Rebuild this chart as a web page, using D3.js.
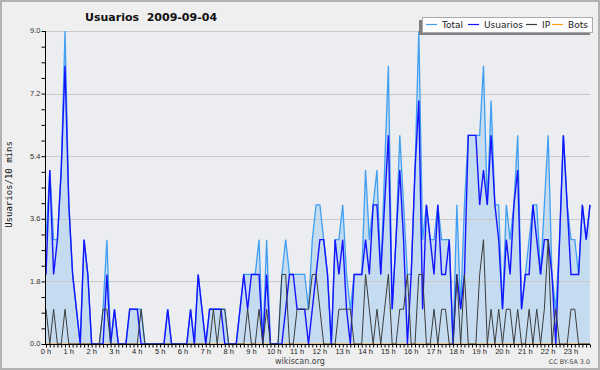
<!DOCTYPE html>
<html>
<head>
<meta charset="utf-8">
<script src="https://cdn.jsdelivr.net/npm/d3@7"></script>
<style>
  body { margin: 0; background: #efefef; }
  svg { display: block; font-family: "DejaVu Sans", sans-serif; }
</style>
</head>
<body>
<div id="chart"></div>
<script>
// values per 10 minutes, 144 slots (00:00 .. 23:50)
const total = [
  3,5,3,3,5,9,4,2,1,0, 3,2,0,0,0,1,3,0,1,0, 0,0,1,1,1,1,0,0,0,0,
  0,0,1,0,0,0,0,0,1,0, 2,1,0,1,1,1,1,1,0,0, 0,1,2,2,2,2,3,0,3,0,
  0,0,2,3,2,2,2,2,2,1, 3,4,4,3,2,0,3,3,4,2, 1,2,2,2,5,3,4,5,2,5,
  8,1,3,6,4,2,2,5,9,3, 4,3,3,4,3,3,3,0,4,1, 4,6,6,6,6,8,4,7,4,4,
  1,4,3,4,6,1,2,3,4,4, 2,4,6,2,1,3,6,4,3,3, 2,4,3,4
];
const usuarios = [
  2,5,2,3,5,8,4,2,1,0, 3,2,0,0,0,0,2,0,1,0, 0,0,1,1,1,0,0,0,0,0,
  0,0,1,0,0,0,0,0,1,0, 2,1,0,1,1,1,1,0,0,0, 0,1,2,1,2,2,2,0,2,0,
  0,0,0,1,2,2,1,1,1,0, 1,2,3,3,2,0,3,2,3,1, 0,2,2,2,3,2,4,4,2,4,
  6,1,3,5,3,0,2,5,7,1, 4,3,2,4,2,2,3,0,2,1, 2,6,6,6,4,5,4,6,4,3,
  1,3,2,4,5,1,2,2,4,3, 2,3,3,2,0,3,6,4,2,2, 2,4,3,4
];
const ip = [
  1,0,1,0,0,1,0,0,0,0, 0,0,0,0,0,1,1,0,0,0, 0,0,0,0,0,1,0,0,0,0,
  0,0,0,0,0,0,0,0,0,0, 0,0,0,0,1,0,1,1,0,0, 0,0,0,1,0,0,1,0,1,0,
  0,0,2,2,0,0,1,1,1,1, 2,2,1,0,0,0,0,1,1,1, 1,0,0,0,2,1,0,1,0,1,
  2,0,0,1,1,2,0,0,2,2, 0,0,1,0,1,1,0,0,2,0, 2,0,0,0,2,3,0,1,0,1,
  0,1,1,0,1,0,0,1,0,1, 0,1,3,0,1,0,0,0,1,1, 0,0,0,0
];
const bots = new Array(144).fill(0);

const hourLabels = d3.range(24).map(h => `${h} h`);
const yTicks = [0, 1.8, 3.6, 5.4, 7.2, 9.0];

const series = [
  {name: "Total", values: total, color: "#3f9ff2", width: 1.3},
  {name: "Usuarios", values: usuarios, color: "#1414ff", width: 1.4},
  {name: "IP", values: ip, color: "#3c3c3c", width: 1},
  {name: "Bots", values: bots, color: "#ff9c1a", width: 1}
];

const W = 600, H = 370;
const margin = {top: 31, right: 10, bottom: 26, left: 46};

const svg = d3.select("#chart").append("svg")
    .attr("width", W)
    .attr("height", H);

// background + frame
svg.append("rect")
    .attr("x", 1).attr("y", 1)
    .attr("width", W - 2).attr("height", H - 2)
    .attr("fill", "#efefef")
    .attr("stroke", "#b2b2b2")
    .attr("stroke-width", 2);

const x = d3.scaleLinear()
    .domain([0, 143])
    .range([margin.left, W - margin.right]);

const y = d3.scaleLinear()
    .domain([0, 9])
    .range([H - margin.bottom, margin.top]);

// plot background
svg.append("rect")
    .attr("x", x(0)).attr("y", y(9))
    .attr("width", x(143) - x(0)).attr("height", y(0) - y(9))
    .attr("fill", "#ecedf0");

// filled area under Total
svg.append("path")
    .datum(total)
    .attr("fill", "#c5dcf0")
    .attr("d", d3.area()
        .x((d, i) => x(i))
        .y0(y(0))
        .y1(d => y(d)));

// grid lines
svg.append("g")
    .selectAll("line")
    .data(yTicks.slice(1))
    .join("line")
    .attr("x1", x(0)).attr("x2", x(143))
    .attr("y1", d => Math.round(y(d)) + 0.5)
    .attr("y2", d => Math.round(y(d)) + 0.5)
    .attr("stroke", "#c9c9c9")
    .attr("stroke-width", 1);

// lines (bots first, then ip, usuarios, total on top order like ref)
const line = d3.line()
    .x((d, i) => x(i))
    .y(d => y(d));

const drawOrder = [series[3], series[0], series[1], series[2]];
svg.append("g")
    .selectAll("path")
    .data(drawOrder)
    .join("path")
    .attr("fill", "none")
    .attr("stroke", d => d.color)
    .attr("stroke-width", d => d.width)
    .attr("stroke-linejoin", "miter")
    .attr("d", d => line(d.values));

// y axis
const yAxis = svg.append("g")
    .attr("transform", `translate(${margin.left - 0.5},0)`);
yAxis.call(d3.axisLeft(y)
    .tickValues(d3.range(0, 9.001, 0.45))
    .tickSize(4)
    .tickFormat(""));
yAxis.call(g => g.select(".domain").remove());
yAxis.append("line")
    .attr("y1", y(0)).attr("y2", y(9))
    .attr("stroke", "#000");
yAxis.selectAll(".tick line").attr("stroke", "#000");
yAxis.selectAll(".tick.lbl")
    .data(yTicks)
    .join("text")
    .attr("x", -5)
    .attr("y", d => y(d))
    .attr("dy", "0.33em")
    .attr("text-anchor", "end")
    .attr("font-size", 7.5)
    .attr("fill", "#333")
    .text(d => d.toFixed(1));

// x axis
const xAxis = svg.append("g")
    .attr("transform", `translate(0,${y(0) + 0.5})`);
xAxis.call(d3.axisBottom(x)
    .tickValues(d3.range(0, 144))
    .tickSize(3)
    .tickFormat(""));
xAxis.select(".domain").attr("d", `M${x(0) - 1},0H${x(143)}`).attr("stroke", "#000");
xAxis.selectAll(".tick line").attr("stroke", "#000");
xAxis.selectAll("text.hr")
    .data(hourLabels)
    .join("text")
    .attr("class", "hr")
    .attr("x", (d, i) => x(i * 6))
    .attr("y", 9)
    .attr("text-anchor", "middle")
    .attr("font-size", 7.5)
    .attr("fill", "#222")
    .text(d => d);

// y axis title
svg.append("text")
    .attr("transform", `translate(12,${(y(0) + y(9)) / 2 - 3}) rotate(-90)`)
    .attr("text-anchor", "middle")
    .attr("font-family", "DejaVu Sans Mono, monospace")
    .attr("font-size", 9)
    .attr("fill", "#111")
    .text("Usuarios/10 mins");

// title
svg.append("text")
    .attr("x", 85)
    .attr("y", 21)
    .attr("font-size", 11)
    .attr("font-weight", "bold")
    .attr("fill", "#111")
    .style("white-space", "pre")
    .text("Usuarios  2009-09-04");

// footer texts
svg.append("text")
    .attr("x", 300).attr("y", 364)
    .attr("text-anchor", "middle")
    .attr("font-size", 8)
    .attr("fill", "#444")
    .text("wikiscan.org");
svg.append("text")
    .attr("x", 590).attr("y", 364)
    .attr("text-anchor", "end")
    .attr("font-size", 6.4)
    .attr("fill", "#444")
    .text("CC BY-SA 3.0");

// legend
const lg = svg.append("g");
lg.append("rect")
    .attr("x", 419).attr("y", 20)
    .attr("width", 171).attr("height", 15)
    .attr("fill", "#808080");
lg.append("rect")
    .attr("x", 422.5).attr("y", 17.5)
    .attr("width", 170).attr("height", 15)
    .attr("fill", "#fdfdfd")
    .attr("stroke", "#aaa");
const legendX = [426, 468, 526, 552];
const item = lg.selectAll("g.item")
    .data(series)
    .join("g")
    .attr("class", "item")
    .attr("transform", (d, i) => `translate(${legendX[i]},24.5)`);
item.append("line")
    .attr("x1", 0).attr("x2", 11)
    .attr("stroke", d => d.color)
    .attr("stroke-width", 1.2);
item.append("text")
    .attr("x", 16)
    .attr("y", 3.3)
    .attr("font-size", 9)
    .attr("fill", "#222")
    .text(d => d.name);
</script>
</body>
</html>
